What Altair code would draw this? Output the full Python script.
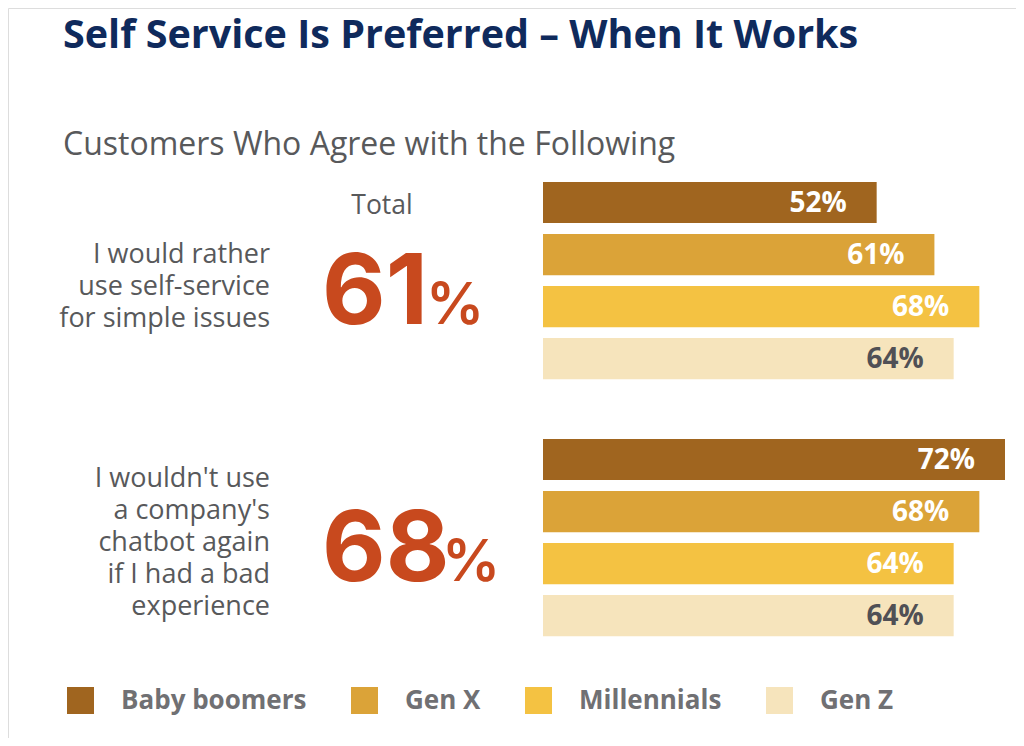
import altair as alt
import pandas as pd

title_text = "Self Service Is Preferred \u2013 When It Works"
subtitle_text = "Customers Who Agree with the Following"
questions = ["I would rather\nuse self-service\nfor simple issues",
             "I wouldn't use\na company's\nchatbot again\nif I had a bad\nexperience"]
generations = ["Baby boomers", "Gen X", "Millennials", "Gen Z"]
gen_colors = ["#A0651F", "#DBA338", "#F4C242", "#F6E4BC"]
q1_values = [52, 61, 68, 64]
q2_values = [72, 68, 64, 64]
totals = [61, 68]

rows = []
for q, vals in zip(questions, [q1_values, q2_values]):
    for g, v in zip(generations, vals):
        rows.append({"question": q, "gen": g, "value": v, "label": f"{v}%"})
bars_df = pd.DataFrame(rows)
q_df = pd.DataFrame({"question": questions, "total": [str(t) for t in totals]})

FONT = "Open Sans"
BIG_FONT = "Inter"
RED = "#C8491E"
GREY = "#58595B"

yscale = alt.Scale(domain=questions, range=[168.5, 633.7], paddingInner=0.19, paddingOuter=0)
xscale = alt.Scale(domain=[0, 72], range=[535, 997])
yoff_scale = alt.Scale(domain=generations, paddingInner=0.21, paddingOuter=0.105)

base = alt.Chart(bars_df)

bars = base.mark_bar(cornerRadius=0).encode(
    x=alt.X("value:Q", scale=xscale, axis=None),
    y=alt.Y("question:N", scale=yscale, axis=None, sort=questions),
    yOffset=alt.YOffset("gen:N", scale=yoff_scale, sort=generations),
    color=alt.Color("gen:N", scale=alt.Scale(domain=generations, range=gen_colors), sort=generations,
                    legend=alt.Legend(title=None, orient="none", legendX=59, legendY=679, direction="horizontal",
                                      symbolType="square", symbolSize=729, symbolStrokeWidth=0,
                                      labelFont=FONT, labelFontSize=26, labelFontWeight="bold",
                                      labelColor="#707073", labelOffset=27, columnPadding=44,
                                      labelLimit=400, symbolOpacity=1)),
)

bar_labels = base.mark_text(align="right", baseline="middle", dx=-30, dy=1, font=FONT, fontSize=28,
                            fontWeight="bold").encode(
    x=alt.X("value:Q", scale=xscale),
    y=alt.Y("question:N", scale=yscale, sort=questions),
    yOffset=alt.YOffset("gen:N", scale=yoff_scale, sort=generations),
    text="label:N",
    color=alt.condition(alt.datum.gen == "Gen Z", alt.value("#505055"), alt.value("#FFFFFF")),
)

q_layers = []
for q, y0 in zip(questions, [255, 479]):
    q_layers.append(
        alt.Chart(pd.DataFrame({"question": [q]})).mark_text(
            align="right", baseline="alphabetic", font=FONT, fontSize=27,
            lineBreak="\n", lineHeight=32, color=GREY).encode(
            x=alt.value(262), y=alt.value(y0), text="question:N")
    )

big_digits = alt.Chart(q_df).mark_text(align="left", baseline="alphabetic", dy=43, font=BIG_FONT, fontSize=98,
                                       fontWeight="bold", color=RED).encode(
    x=alt.value(314),
    y=alt.Y("question:N", scale=yscale, sort=questions),
    text="total:N",
)

pct_layers = []
for q, px in zip(questions, [418, 434]):
    pct_layers.append(
        alt.Chart(q_df[q_df["question"] == q]).mark_text(
            align="left", baseline="alphabetic", dy=43, font=BIG_FONT, fontSize=58,
            fontWeight=600, color=RED).encode(
            x=alt.value(px),
            y=alt.Y("question:N", scale=yscale, sort=questions),
            text=alt.value("%"),
        )
    )

title = alt.Chart(pd.DataFrame({"t": [title_text]})).mark_text(
    align="left", baseline="alphabetic", font=FONT, fontSize=39.5, fontWeight="bold", color="#0F2A5C"
).encode(x=alt.value(55), y=alt.value(40), text="t:N")

subtitle = alt.Chart(pd.DataFrame({"t": [subtitle_text]})).mark_text(
    align="left", baseline="alphabetic", font=FONT, fontSize=32, color=GREY
).encode(x=alt.value(55), y=alt.value(147), text="t:N")

total_lbl = alt.Chart(pd.DataFrame({"t": ["Total"]})).mark_text(
    align="center", baseline="alphabetic", font=FONT, fontSize=26.5, color=GREY
).encode(x=alt.value(374), y=alt.value(206), text="t:N")

chart = alt.layer(bars, bar_labels, *q_layers, big_digits, *pct_layers, title, subtitle, total_lbl).properties(
    width=1008, height=730, autosize=alt.AutoSizeParams(type="none"), padding=0,
).configure_view(stroke=None).configure(background="white")

chart.save("out.html", embed_options={"renderer": "svg", "actions": False})
